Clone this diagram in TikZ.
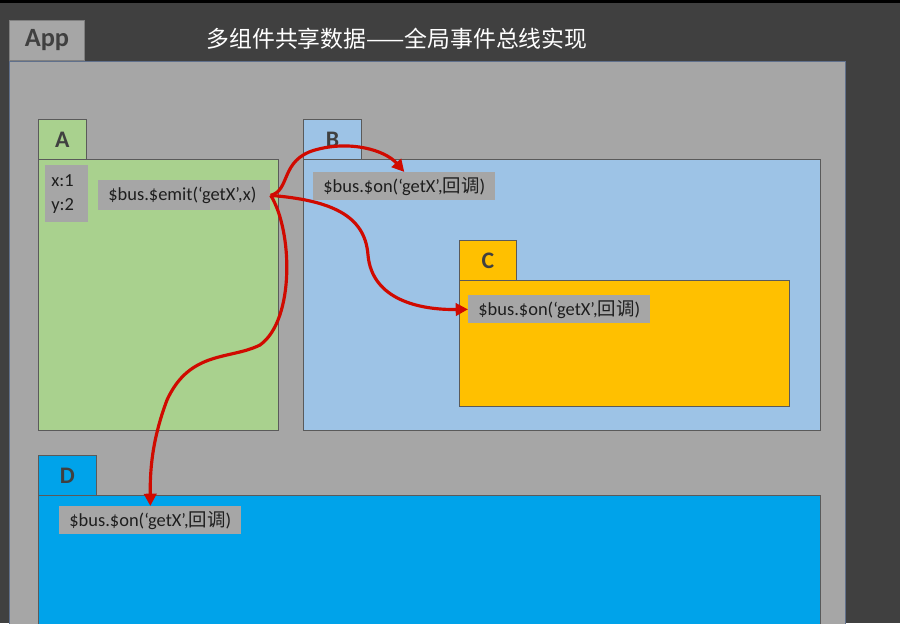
\documentclass[tikz,border=0pt]{standalone}
\usepackage{fontspec}
\setmainfont{Carlito}
\newfontfamily\cjk{Noto Sans CJK SC}
\usepackage{xcolor}
\definecolor{slate}{RGB}{64,64,64}
\definecolor{pane}{RGB}{166,166,166}
\definecolor{paneline}{RGB}{96,112,140}
\definecolor{leaf}{RGB}{169,209,142}
\definecolor{sky}{RGB}{157,195,230}
\definecolor{gold}{RGB}{255,192,0}
\definecolor{ocean}{RGB}{0,163,234}
\definecolor{edge}{RGB}{90,90,90}
\definecolor{ink}{RGB}{30,30,30}
\definecolor{signal}{RGB}{208,10,0}
\usepackage{tikz}
\usetikzlibrary{arrows.meta,positioning}
\tikzset{
  %% component tab and body
  tabbox/.style={draw=edge, line width=0.5pt, anchor=north west,
                 minimum height=0.8cm, inner sep=0pt,
                 font=\fontsize{13.5}{15}\selectfont\bfseries, text=slate},
  bodybox/.style={draw=edge, line width=0.5pt, anchor=north west, inner sep=0pt},
  %% grey code labels
  codebox/.style={fill=pane, anchor=north west, inner xsep=0.2cm, inner ysep=0pt,
                  align=left, font=\fontsize{10.5}{12}\selectfont, text=ink},
  busarrow/.style={draw=signal, line width=1.8pt,
                   -{Triangle[length=7pt,width=7pt]}},
}

\begin{document}
\begin{tikzpicture}[x=0.02cm,y=-0.02cm]
\clip (0,0) rectangle (900,623);
\fill[slate] (0,0) rectangle (900,623);
\fill[black] (0,0) rectangle (900,3);

% App
\node[bodybox, draw=paneline, fill=pane, minimum width=16.72cm, minimum height=11.6cm] (app) at (9,61) {};
\node[tabbox, draw=gray, fill=pane, minimum width=1.5cm,
      font=\fontsize{15}{17}\selectfont\bfseries] (apptab) at (9,20) {App};
\node[text=white, font=\cjk\fontsize{13}{15}\selectfont] (title) at (397,39) {多组件共享数据——全局事件总线实现};

% A
\node[bodybox, fill=leaf, minimum width=4.8cm, minimum height=5.42cm] (abody) at (38,159) {};
\node[tabbox, fill=leaf, minimum width=0.96cm] (atab) at (38,119) {A};
\node[codebox, inner xsep=0.12cm, text width=0.62cm, minimum height=1.14cm,
      font=\fontsize{10.5}{13.5}\selectfont] (xy) at (45,165) {x:1\\y:2};
\node[codebox, text width=3.04cm, minimum height=0.6cm] (emit) at (98,180) {\$bus.\$emit(‘getX’,x)};

% B
\node[bodybox, fill=sky, minimum width=10.34cm, minimum height=5.42cm] (bbody) at (303,159) {};
\node[tabbox, fill=sky, minimum width=1.16cm] (btab) at (303,119) {B};
\node[codebox, text width=3.24cm, minimum height=0.56cm] (bon) at (313,172) {\$bus.\$on(‘getX’,{\cjk 回调})};

% C
\node[bodybox, fill=gold, minimum width=6.6cm, minimum height=2.52cm] (cbody) at (459,280) {};
\node[tabbox, fill=gold, minimum width=1.14cm] (ctab) at (459,240) {C};
\node[codebox, text width=3.24cm, minimum height=0.56cm] (con) at (468,295) {\$bus.\$on(‘getX’,{\cjk 回调})};

% D
\node[bodybox, fill=ocean, minimum width=15.64cm, minimum height=2.8cm] (dbody) at (38,495) {};
\node[tabbox, fill=ocean, minimum width=1.16cm] (dtab) at (38,455) {D};
\node[codebox, text width=3.24cm, minimum height=0.56cm] (don) at (59,506) {\$bus.\$on(‘getX’,{\cjk 回调})};

% event bus
\draw[busarrow] (emit.east) .. controls +(20,-5) and (280,160) .. (315,150)
  .. controls (350,140) and (385,150) .. (bon.north);
\draw[busarrow] (emit.east) .. controls +(60,5) and (365,215) .. (368,255)
  .. controls (372,300) and (420,310) .. (con.west);
\draw[busarrow] (emit.east) .. controls +(22,35) and (295,320) .. (260,345)
  .. controls (230,360) and (190,350) .. (167,400)
  .. controls (152,440) and (150,470) .. (don.north);
\end{tikzpicture}
\end{document}
